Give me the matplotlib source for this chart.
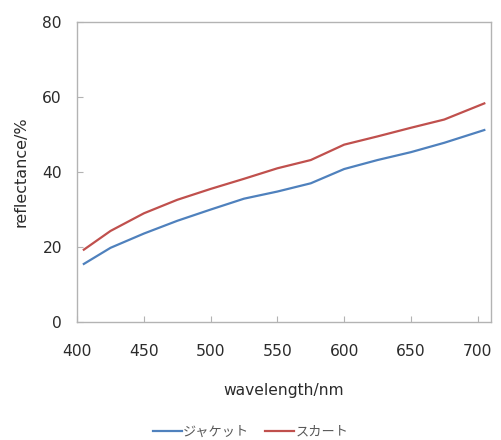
import matplotlib
matplotlib.use("Agg")
import matplotlib.pyplot as plt

# values
wavelength = [405, 425, 450, 475, 500, 525, 550, 575, 600, 625, 650, 675, 705]
jacket = [15.5, 19.8, 23.6, 27.0, 30.0, 32.9, 34.8, 37.0, 40.8, 43.2, 45.3, 47.8, 51.2]
skirt = [19.3, 24.3, 29.0, 32.6, 35.5, 38.2, 41.0, 43.2, 47.3, 49.5, 51.8, 54.0, 58.3]
series_names = ["ジャケット", "スカート"]

x_ticks = [400, 450, 500, 550, 600, 650, 700]
y_ticks = [0, 20, 40, 60, 80]

BLUE = "#4F81BD"
RED = "#C0504D"
GRID = "#B3B3B3"
TEXT = "#2b2b2b"

plt.rcParams["font.family"] = ["DejaVu Sans", "Noto Sans CJK JP"]

fig = plt.figure(figsize=(5.01, 4.40), dpi=100)
ax = fig.add_axes([0.154, 0.268, 0.826, 0.682])

ax.plot(wavelength, jacket, color=BLUE, linewidth=1.6, label=series_names[0])
ax.plot(wavelength, skirt, color=RED, linewidth=1.6, label=series_names[1])

ax.set_xlim(400, 710)
ax.set_ylim(0, 80)
ax.set_xticks(x_ticks)
ax.set_yticks(y_ticks)
ax.tick_params(direction="in", length=4, color=GRID, labelsize=11.2,
               labelcolor=TEXT)
ax.tick_params(axis="y", pad=11)
ax.tick_params(axis="x", pad=16)
for s in ax.spines.values():
    s.set_color(GRID)
    s.set_linewidth(1.0)

ax.set_xlabel("wavelength/nm", fontsize=11.2, color=TEXT, labelpad=17)
ax.set_ylabel("reflectance/%", fontsize=11.5, color=TEXT, labelpad=10)

leg = fig.legend(loc="lower center", bbox_to_anchor=(0.5, -0.024), ncol=2,
                 frameon=False, fontsize=9.5, handlelength=2.2,
                 handletextpad=0.1, columnspacing=1.2)
for t in leg.get_texts():
    t.set_color("#595959")
    t.set_family(["Noto Sans CJK JP", "DejaVu Sans"])

fig.savefig("out.png", dpi=100)
